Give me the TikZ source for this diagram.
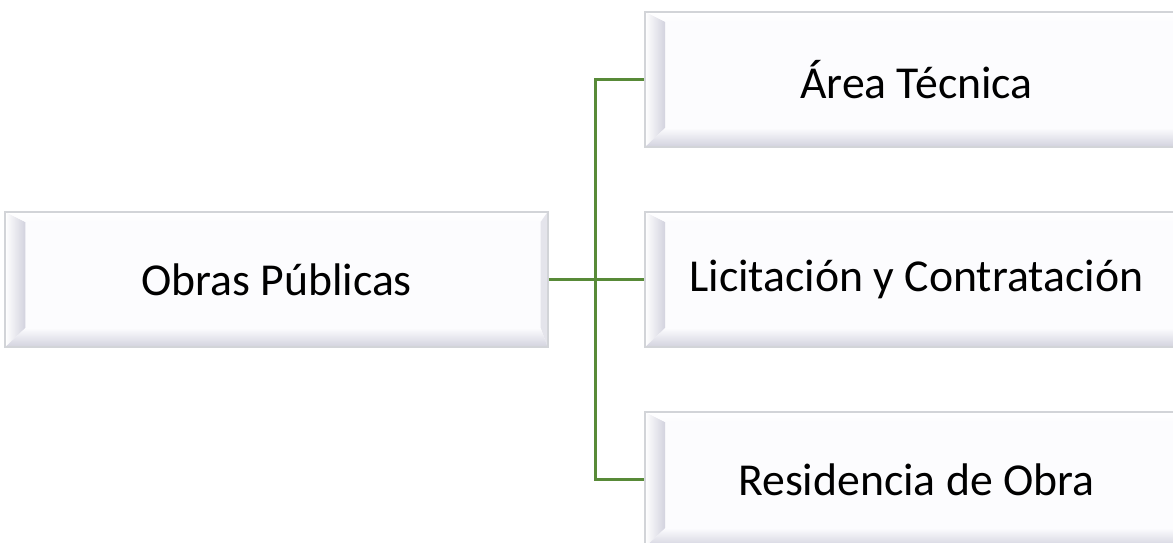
\documentclass[tikz,border=0pt]{standalone}
\usepackage{fontspec}
\setmainfont{Carlito}
\usetikzlibrary{positioning, calc}
\definecolor{linegreen}{RGB}{88,138,56}
\definecolor{bevelgrey}{RGB}{210,210,222}
\definecolor{facewhite}{RGB}{252,252,254}
\definecolor{edgegrey}{RGB}{210,212,216}

\begin{document}
\begin{tikzpicture}[x=0.01cm, y=-0.01cm, on grid, node distance=2cm and 6.395cm,
    unit/.style={rectangle, fill=facewhite, draw=edgegrey, line width=0.6pt,
      minimum width=5.42cm, minimum height=1.35cm, inner sep=0pt,
      font=\fontsize{13}{16}\selectfont,
      path picture={
        \path (path picture bounding box.south west) coordinate (bsw)
              (path picture bounding box.north east) coordinate (bne);
        \path ($(bsw)+(0.2cm,0.19cm)$) coordinate (isw)
              ($(bne)+(-0.07cm,-0.1cm)$) coordinate (ine);
        \shade[left color=white, right color=bevelgrey]
          (bsw) -- (bsw|-bne) -- (isw|-ine) -- (isw) -- cycle;
        \shade[top color=white, bottom color=facewhite]
          (bsw|-bne) -- (bne) -- (ine) -- (isw|-ine) -- cycle;
        \fill[bevelgrey!60] (bne) -- (bne|-bsw) -- (ine|-isw) -- (ine) -- cycle;
        \shade[top color=facewhite, bottom color=bevelgrey]
          (bsw) -- (isw) -- (ine|-isw) -- (bne|-bsw) -- cycle;
      }},
    link/.style={draw=linegreen, line width=0.65pt}]
  \useasboundingbox (0,0) rectangle (1173,543);
  \clip (0,0) rectangle (1173,543);

  \node[unit] (obras) at (276.5,279.5) {Obras Públicas};
  \node[unit] (lic) [right=of obras] {Licitación y Contratación};
  \node[unit] (tec) [above=of lic]   {Área Técnica};
  \node[unit] (res) [below=of lic]   {Residencia de Obra};

  \coordinate (split) at ($(obras.east)!0.49!(lic.west)$);
  \path[link] (obras.east) -- (lic.west);
  \path[link] (tec.west) -| (split) |- (res.west);
\end{tikzpicture}
\end{document}
